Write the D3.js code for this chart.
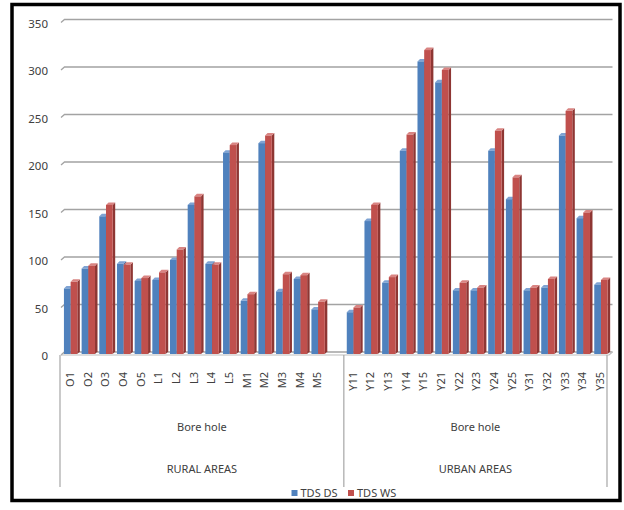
<!DOCTYPE html>
<html>
<head>
<meta charset="utf-8">
<script src="https://cdn.jsdelivr.net/npm/d3@7/dist/d3.min.js"></script>
<style>
  html, body { margin: 0; padding: 0; background: #fff; }
  svg { display: block; }
  text { font-family: "Noto Sans", "Open Sans", sans-serif; fill: #404040; }
</style>
</head>
<body>
<svg id="chart" width="624" height="510"></svg>
<script>
// Bore hole sampling sites (rural, then urban)
const ruralSites = ["O1","O2","O3","O4","O5","L1","L2","L3","L4","L5","M1","M2","M3","M4","M5"];
const urbanSites = ["Y11","Y12","Y13","Y14","Y15","Y21","Y22","Y23","Y24","Y25","Y31","Y32","Y33","Y34","Y35"];

// Total dissolved solids, dry season and wet season
const tdsDS = [70, 91, 146, 96, 78, 79, 100, 158, 96, 213, 57, 223, 67, 80, 48,
               45, 141, 76, 215, 309, 287, 68, 68, 215, 164, 68, 71, 231, 144, 74];
const tdsWS = [77, 94, 158, 95, 81, 87, 111, 167, 95, 221, 64, 231, 85, 84, 56,
               50, 158, 82, 232, 321, 300, 76, 71, 236, 187, 71, 80, 257, 150, 79];

const yTicks = [0, 50, 100, 150, 200, 250, 300, 350];
const seriesNames = ["TDS DS", "TDS WS"];
const groupNames = ["RURAL AREAS", "URBAN AREAS"];
const subLabel = "Bore hole";

const colors = { face: ["#4F81BD", "#C0504D"], side: ["#36598A", "#8E3633"], top: ["#7FA3D3", "#D98482"] };

const svg = d3.select("#chart");

// outer frame
svg.append("rect").attr("x", 12).attr("y", 4.5).attr("width", 608).attr("height", 496)
  .attr("fill", "none").attr("stroke", "#000").attr("stroke-width", 3.5);

// category slots: rural sites, one empty slot, urban sites
const slots = [...ruralSites, "__gap", ...urbanSites];
const x = d3.scaleBand().domain(slots).range([61, 609]).paddingInner(0).paddingOuter(0);
const y = d3.scaleLinear().domain([0, 350]).range([355, 22.5]);
const depth = { dx: 3.5, dy: -3 };

// rows of data aligned to sites
const sites = [...ruralSites, ...urbanSites];
const rows = sites.map((s, i) => ({ site: s, vals: [tdsDS[i], tdsWS[i]] }));

// back wall gridlines with slanted left edge
const grid = svg.append("g");
yTicks.forEach(t => {
  const yf = y(t), yb = y(t) + depth.dy;
  grid.append("path")
    .attr("d", `M${x.range()[0]},${yf} L${x.range()[0] + depth.dx},${yb} L${x.range()[1] + depth.dx},${yb}`)
    .attr("fill", "none").attr("stroke", "#a3a3a3").attr("stroke-width", 1.3);
});
// floor front edge and right slant
svg.append("path")
  .attr("d", `M${x.range()[0]},${y(0)} L${x.range()[1]},${y(0)} L${x.range()[1] + depth.dx},${y(0) + depth.dy}`)
  .attr("fill", "none").attr("stroke", "#bdbdbd").attr("stroke-width", 1.2);

// y tick labels
svg.append("g").selectAll("text").data(yTicks).join("text")
  .attr("x", 48).attr("y", d => y(d) + 1)
  .attr("dy", "0.35em").attr("text-anchor", "end")
  .attr("font-size", 11.5).text(d => d);

// bars (front face, top face, right side)
const inner = d3.scaleBand().domain([0, 1]).range([0, 13.4]);
const barOff = (x.bandwidth() - 13.4) / 2 + 0.8;
const bd = 2.5;
const bars = svg.append("g");
rows.forEach(r => {
  r.vals.forEach((v, k) => {
    const x0 = x(r.site) + barOff + inner(k);
    const w = inner.bandwidth();
    const yt = y(v), yb = y(0) - 1;
    bars.append("path")
      .attr("d", `M${x0 + w},${yt} L${x0 + w + bd},${yt - bd} L${x0 + w + bd},${yb - bd} L${x0 + w},${yb} Z`)
      .attr("fill", colors.side[k]);
    bars.append("path")
      .attr("d", `M${x0},${yt} L${x0 + bd},${yt - bd} L${x0 + w + bd},${yt - bd} L${x0 + w},${yt} Z`)
      .attr("fill", colors.top[k]);
    bars.append("rect")
      .attr("x", x0).attr("y", yt).attr("width", w).attr("height", yb - yt)
      .attr("fill", colors.face[k]);
  });
});

// category axis box with group dividers
const axisBottom = 487;
const xL = x.range()[0] - 1, xM = x("__gap") + x.bandwidth(), xR = x.range()[1] - 2;
[xL, xM, xR].forEach(xx => {
  svg.append("line").attr("x1", xx).attr("x2", xx).attr("y1", y(0)).attr("y2", axisBottom)
    .attr("stroke", "#a6a6a6").attr("stroke-width", 1.2);
});

// site labels, rotated
svg.append("g").selectAll("text").data(sites).join("text")
  .attr("transform", d => `translate(${x(d) + x.bandwidth() / 2 + 4},372) rotate(-90)`)
  .attr("text-anchor", "end").attr("font-size", 11).text(d => d);

// second and third level labels
const groupCenters = [(xL + xM) / 2, (xM + xR) / 2];
groupCenters.forEach((cx, i) => {
  svg.append("text").attr("x", cx).attr("y", 427).attr("dy", "0.35em")
    .attr("text-anchor", "middle").attr("font-size", 11).text(subLabel);
  svg.append("text").attr("x", cx).attr("y", 469).attr("dy", "0.35em")
    .attr("text-anchor", "middle").attr("font-size", 11).text(groupNames[i]);
});

// legend
const legendX = [291.5, 348];
seriesNames.forEach((name, k) => {
  svg.append("rect").attr("x", legendX[k]).attr("y", 490).attr("width", 6).attr("height", 6)
    .attr("fill", colors.face[k]);
  svg.append("text").attr("x", legendX[k] + 9).attr("y", 493.5).attr("dy", "0.35em")
    .attr("font-size", 11).text(name);
});
</script>
</body>
</html>
